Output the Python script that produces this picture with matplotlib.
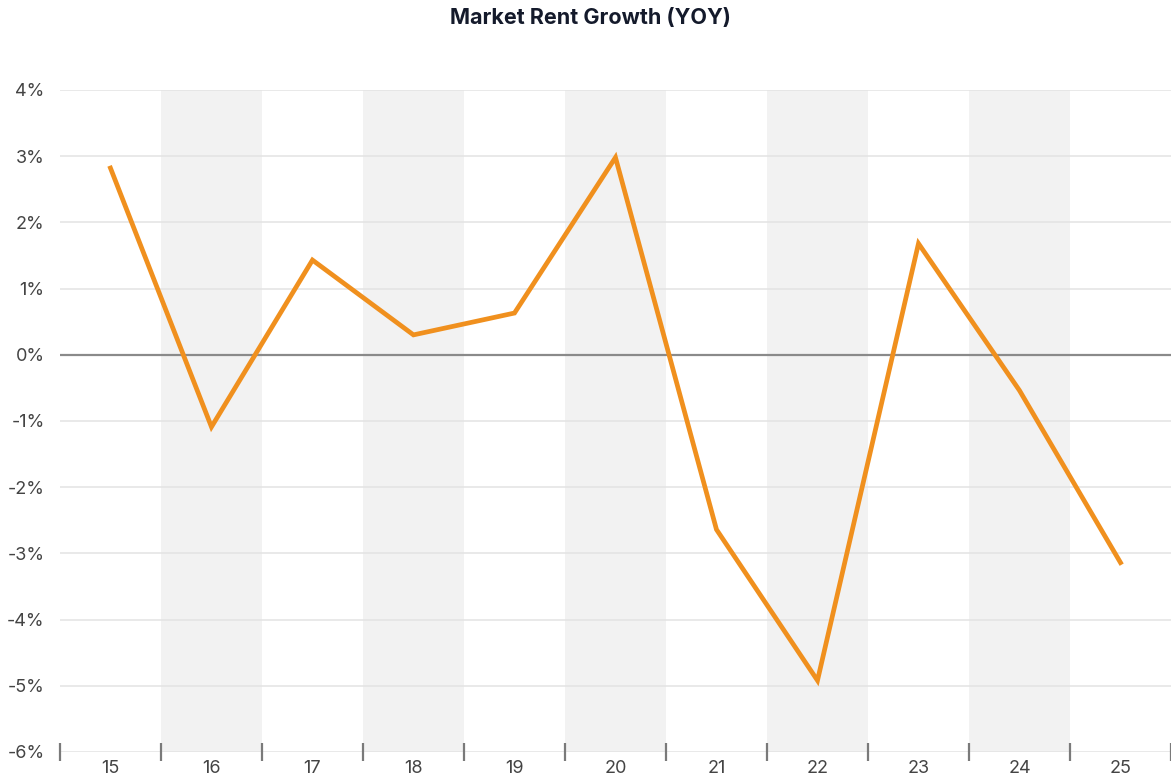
import matplotlib.pyplot as plt
from matplotlib.ticker import FixedLocator, FuncFormatter

plt.rcParams['font.family'] = ['Inter', 'DejaVu Sans']

# Annual market rent growth, % year over year
years = [15, 16, 17, 18, 19, 20, 21, 22, 23, 24, 25]
growth = [2.82, -1.09, 1.43, 0.30, 0.63, 2.98, -2.64, -4.92, 1.68, -0.54, -3.14]
shaded_years = [16, 18, 20, 22, 24]
y_ticks = [4, 3, 2, 1, 0, -1, -2, -3, -4, -5, -6]

fig = plt.figure(figsize=(11.71, 7.82), dpi=100)
ax = fig.add_axes([0.0512, 0.0384, 0.9488, 0.8466])

# alternating background bands
for yr in shaded_years:
    ax.axvspan(yr - 0.5, yr + 0.5, color='#f2f2f2', lw=0, zorder=0)

for v in y_ticks:
    if v == 0:
        ax.axhline(v, color='#8a8a8a', lw=1.6, zorder=1)
    else:
        ax.axhline(v, color='#e3e3e3', lw=1.1, zorder=1)

ax.plot(years, growth, color='#F0901E', lw=3.4, solid_joinstyle='miter', zorder=3)

ax.set_xlim(14.5, 25.5)
ax.set_ylim(-6, 4)
for s in ax.spines.values():
    s.set_visible(False)

ax.set_xticks(years)
ax.set_xticklabels([str(y) for y in years])
ax.xaxis.set_minor_locator(FixedLocator([y - 0.5 for y in years] + [25.5]))
ax.tick_params(axis='x', which='major', length=0, pad=6, labelsize=13, labelcolor='#444444')
ax.tick_params(axis='x', which='minor', direction='inout', length=13, width=1.6, color='#7a7a7a')

ax.set_yticks(y_ticks)
ax.yaxis.set_major_formatter(FuncFormatter(lambda v, p: f'{int(v)}%'))
ax.tick_params(axis='y', length=0, pad=11, labelsize=13, labelcolor='#444444')

fig.text(0.504, 0.977, 'Market Rent Growth (YOY)', ha='center', va='center',
         fontsize=15.5, fontweight='bold', color='#141a2b')

fig.savefig('out.png', dpi=100)
